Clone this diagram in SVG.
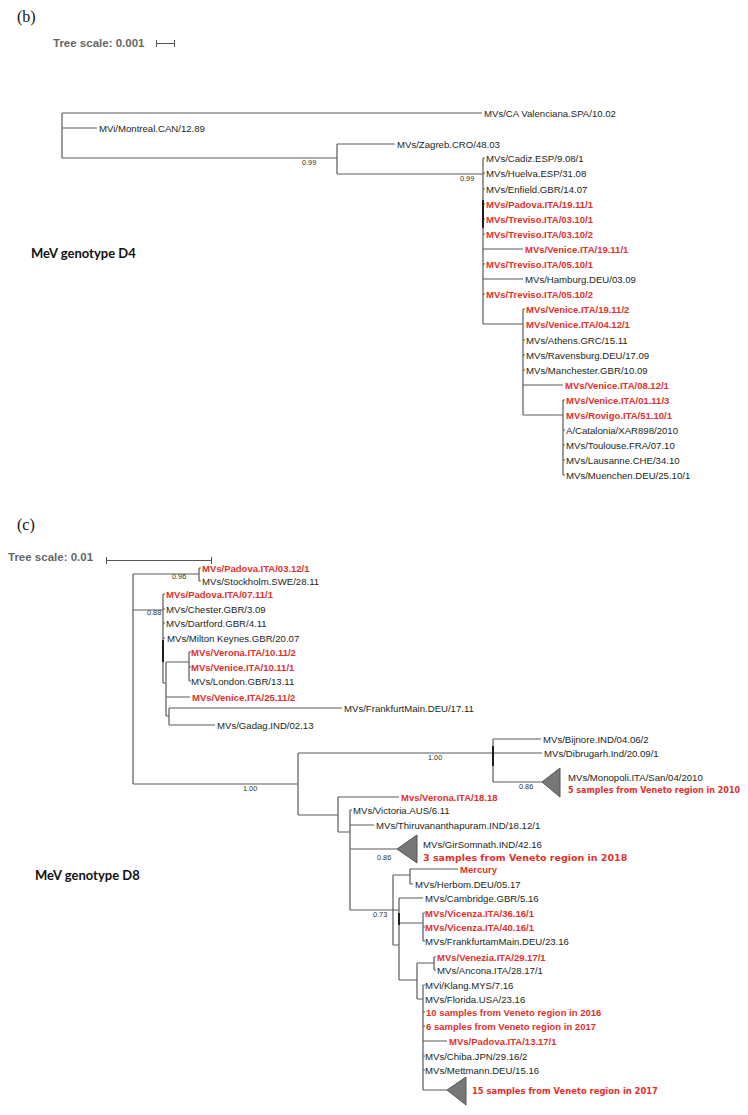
<svg xmlns="http://www.w3.org/2000/svg" width="748" height="1115" viewBox="0 0 748 1115">
<style>
.br{stroke:#5a5a5a;stroke-width:1.2;fill:none}
.dk{stroke:#111;stroke-width:1.8;fill:none}
.lb{font-family:"Liberation Sans",Arial,sans-serif;font-size:9.6px;fill:#1b261b}
.rd{font-family:"Liberation Sans",Arial,sans-serif;font-size:9.5px;font-weight:bold;fill:#e3302b}
.bs{font-family:"Liberation Sans",Arial,sans-serif;font-size:7.3px;fill:#2a332a}
.cl{font-family:"DejaVu Sans",Verdana,sans-serif;font-weight:bold;fill:#e3302b}
.sc{font-family:"Liberation Sans",Arial,sans-serif;font-size:11.5px;font-weight:bold;fill:#666}
.pn{font-family:"Liberation Serif","Times New Roman",serif;font-size:16px;fill:#111}
.gt{font-family:Lato,"Liberation Sans",sans-serif;font-size:13px;font-weight:bold;fill:#111}
.tri{fill:#777;stroke:#555;stroke-width:1}
.bar{stroke:#555;stroke-width:1;fill:none}
</style>
<rect width="748" height="1115" fill="#fff"/>

<!-- ============ (b) ============ -->
<text class="pn" x="17" y="22">(b)</text>
<text class="sc" x="53" y="47">Tree scale: 0.001</text>
<path class="bar" d="M156,43.5H175M156.5,40V47M174.5,40V47"/>
<text class="gt" x="31" y="258">MeV genotype D4</text>

<g id="connectors-b">
<path class="br" d="M62,113V158M62,113H482M62,128H97M62,158H337"/>
<path class="br" d="M337,144V174M337,144H395M337,174H483"/>
<path class="br" d="M483,158V324M483,158H485M483,173H485M483,189H485M483,204H485M483,219H485M483,234H485M483,249H523M483,264H485M483,279H523M483,294H485M483,324H523"/>
<path class="dk" d="M483,200V228"/>
<path class="br" d="M523,309V415M523,309H525M523,340H525M523,355H525M523,370H525M523,385H563M523,415H563"/>
<path class="br" d="M563,400V475M563,400H565M563,430H565M563,445H565M563,460H565M563,475H565"/>
</g>
<text class="bs" x="302" y="164.5">0.99</text>
<text class="bs" x="460" y="180.5">0.99</text>

<g id="b-valenciana"><text class="lb" x="484" y="116.5">MVs/CA Valenciana.SPA/10.02</text></g>
<g id="b-montreal"><text class="lb" x="99" y="131.5">MVi/Montreal.CAN/12.89</text></g>
<g id="b-zagreb"><text class="lb" x="397" y="147.5">MVs/Zagreb.CRO/48.03</text></g>
<g id="b-cadiz"><text class="lb" x="486" y="161.5">MVs/Cadiz.ESP/9.08/1</text></g>
<g id="b-huelva"><text class="lb" x="486" y="176.5">MVs/Huelva.ESP/31.08</text></g>
<g id="b-enfield"><text class="lb" x="486" y="192.5">MVs/Enfield.GBR/14.07</text></g>
<g id="b-padova"><text class="rd" x="486" y="207.5">MVs/Padova.ITA/19.11/1</text></g>
<g id="b-treviso1"><text class="rd" x="486" y="222.5">MVs/Treviso.ITA/03.10/1</text></g>
<g id="b-treviso2"><text class="rd" x="486" y="237.5">MVs/Treviso.ITA/03.10/2</text></g>
<g id="b-venice1"><text class="rd" x="525" y="252.5">MVs/Venice.ITA/19.11/1</text></g>
<g id="b-treviso3"><text class="rd" x="486" y="267.5">MVs/Treviso.ITA/05.10/1</text></g>
<g id="b-hamburg"><text class="lb" x="525" y="282.5">MVs/Hamburg.DEU/03.09</text></g>
<g id="b-treviso4"><text class="rd" x="486" y="297.5">MVs/Treviso.ITA/05.10/2</text></g>
<g id="b-venice2"><text class="rd" x="526" y="312.5">MVs/Venice.ITA/19.11/2</text></g>
<g id="b-venice3"><text class="rd" x="526" y="327.5">MVs/Venice.ITA/04.12/1</text></g>
<g id="b-athens"><text class="lb" x="526" y="343.5">MVs/Athens.GRC/15.11</text></g>
<g id="b-ravensburg"><text class="lb" x="526" y="358.5">MVs/Ravensburg.DEU/17.09</text></g>
<g id="b-manchester"><text class="lb" x="526" y="373.5">MVs/Manchester.GBR/10.09</text></g>
<g id="b-venice4"><text class="rd" x="565" y="388.5">MVs/Venice.ITA/08.12/1</text></g>
<g id="b-venice5"><text class="rd" x="566" y="403.5">MVs/Venice.ITA/01.11/3</text></g>
<g id="b-rovigo"><text class="rd" x="566" y="418.5">MVs/Rovigo.ITA/51.10/1</text></g>
<g id="b-catalonia"><text class="lb" x="566" y="433.5">A/Catalonia/XAR898/2010</text></g>
<g id="b-toulouse"><text class="lb" x="566" y="448.5">MVs/Toulouse.FRA/07.10</text></g>
<g id="b-lausanne"><text class="lb" x="566" y="463.5">MVs/Lausanne.CHE/34.10</text></g>
<g id="b-muenchen"><text class="lb" x="566" y="478.5">MVs/Muenchen.DEU/25.10/1</text></g>

<!-- ============ (c) ============ -->
<text class="pn" x="17" y="530">(c)</text>
<text class="sc" x="8" y="561">Tree scale: 0.01</text>
<path class="bar" d="M106,560.5H212M106.5,557V564M211.5,557V564"/>
<text class="gt" x="35" y="880">MeV genotype D8</text>

<g id="connectors-c">
<path class="br" d="M133,574V784M133,574H199M199,568V581M199,568H201M199,581H201"/>
<path class="br" d="M133,610H163M163,594V683M163,594H165M163,609H165M163,623H165M163,638H165M163,683H166"/>
<path class="dk" d="M163,640V662"/>
<path class="br" d="M166,662V716M166,662H189M189,652V681M189,652H191M189,667H191M189,681H191M166,697H190M166,716H169"/>
<path class="br" d="M169,708V725M169,708H342M169,725H215"/>
<path class="br" d="M133,784H298M298,753V815M298,753H542"/>
<path class="br" d="M493,739V782M493,739H541M493,782H542"/>
<path class="dk" d="M493,746V766"/>
<path class="br" d="M298,815H338M338,797V832M338,797H399M338,832H350"/>
<path class="br" d="M350,810V910M350,810H352M350,825H374M350,849H397M350,910H399"/>
<path class="br" d="M393,875V945M393,875H410M410,869V884M410,869H458M410,884H413M393,945H399"/>
<path class="br" d="M399,898V980M399,898H423M399,923H423M423,913V941M423,913H425M423,927H425M423,941H425"/>
<path class="dk" d="M399,913V925"/>
<path class="br" d="M399,980H417M417,963V999M417,963H434M434,957V970M434,957H436M434,970H436M417,999H423"/>
<path class="br" d="M423,985V1090M423,985H425M423,1012H425M423,1026H425M423,1041H447M423,1056H425M423,1070H425M423,1090H447"/>
</g>
<text class="bs" x="172" y="578.5">0.96</text>
<text class="bs" x="147" y="614.5">0.88</text>
<text class="bs" x="243" y="790.5">1.00</text>
<text class="bs" x="428" y="759.5">1.00</text>
<text class="bs" x="519" y="788.5">0.86</text>
<text class="bs" x="377" y="859.5">0.86</text>
<text class="bs" x="373" y="916.5">0.73</text>

<g id="c-padova1"><text class="rd" x="202" y="571.5">MVs/Padova.ITA/03.12/1</text></g>
<g id="c-stockholm"><text class="lb" x="202" y="584.5">MVs/Stockholm.SWE/28.11</text></g>
<g id="c-padova2"><text class="rd" x="166" y="597.5">MVs/Padova.ITA/07.11/1</text></g>
<g id="c-chester"><text class="lb" x="166" y="612.5">MVs/Chester.GBR/3.09</text></g>
<g id="c-dartford"><text class="lb" x="166" y="626.5">MVs/Dartford.GBR/4.11</text></g>
<g id="c-milton"><text class="lb" x="167" y="641.5">MVs/Milton Keynes.GBR/20.07</text></g>
<g id="c-verona1"><text class="rd" x="191" y="655.5">MVs/Verona.ITA/10.11/2</text></g>
<g id="c-venice1"><text class="rd" x="191" y="670.5">MVs/Venice.ITA/10.11/1</text></g>
<g id="c-london"><text class="lb" x="191" y="684.5">MVs/London.GBR/13.11</text></g>
<g id="c-venice2"><text class="rd" x="192" y="700.5">MVs/Venice.ITA/25.11/2</text></g>
<g id="c-frankfurt"><text class="lb" x="344" y="711.5">MVs/FrankfurtMain.DEU/17.11</text></g>
<g id="c-gadag"><text class="lb" x="217" y="728.5">MVs/Gadag.IND/02.13</text></g>
<g id="c-bijnore"><text class="lb" x="543" y="742.5">MVs/Bijnore.IND/04.06/2</text></g>
<g id="c-dibrugarh"><text class="lb" x="544" y="756.5">MVs/Dibrugarh.Ind/20.09/1</text></g>
<g id="c-monopoli">
<path class="tri" d="M542,782L560,768L560,797Z"/>
<text class="lb" x="568" y="780.5">MVs/Monopoli.ITA/San/04/2010</text>
<text class="cl" x="568" y="793" font-size="8">5 samples from Veneto region in 2010</text>
</g>
<g id="c-verona2"><text class="rd" x="401" y="800.5">Mvs/Verona.ITA/18.18</text></g>
<g id="c-victoria"><text class="lb" x="353" y="813.5">MVs/Victoria.AUS/6.11</text></g>
<g id="c-thiru"><text class="lb" x="376" y="828.5">MVs/Thiruvananthapuram.IND/18.12/1</text></g>
<g id="c-girsomnath">
<path class="tri" d="M397,849L417,835L417,863Z"/>
<text class="lb" x="423" y="848" font-size="10.5">MVs/GirSomnath.IND/42.16</text>
<text class="cl" x="423" y="860.5" font-size="9.5">3 samples from Veneto region in 2018</text>
</g>
<g id="c-mercury"><text class="rd" x="460" y="872.5">Mercury</text></g>
<g id="c-herbom"><text class="lb" x="415" y="887.5">MVs/Herbom.DEU/05.17</text></g>
<g id="c-cambridge"><text class="lb" x="425" y="901.5">MVs/Cambridge.GBR/5.16</text></g>
<g id="c-vicenza1"><text class="rd" x="425" y="916.5">MVs/Vicenza.ITA/36.16/1</text></g>
<g id="c-vicenza2"><text class="rd" x="425" y="930.5">MVs/Vicenza.ITA/40.16/1</text></g>
<g id="c-frankfurtam"><text class="lb" x="425" y="944.5">MVs/FrankfurtamMain.DEU/23.16</text></g>
<g id="c-venezia"><text class="rd" x="437" y="960.5">MVs/Venezia.ITA/29.17/1</text></g>
<g id="c-ancona"><text class="lb" x="437" y="973.5">MVs/Ancona.ITA/28.17/1</text></g>
<g id="c-klang"><text class="lb" x="425" y="988.5">MVi/Klang.MYS/7.16</text></g>
<g id="c-florida"><text class="lb" x="425" y="1002.5">MVs/Florida.USA/23.16</text></g>
<g id="c-s2016"><text class="rd" x="426" y="1015.5">10 samples from Veneto region in 2016</text></g>
<g id="c-s2017a"><text class="rd" x="426" y="1029.5">6 samples from Veneto region in 2017</text></g>
<g id="c-padova3"><text class="rd" x="449" y="1044.5">MVs/Padova.ITA/13.17/1</text></g>
<g id="c-chiba"><text class="lb" x="425" y="1059.5">MVs/Chiba.JPN/29.16/2</text></g>
<g id="c-mettmann"><text class="lb" x="425" y="1073.5">MVs/Mettmann.DEU/15.16</text></g>
<g id="c-s2017b">
<path class="tri" d="M447,1090L466,1077L466,1105Z"/>
<text class="cl" x="472" y="1094" font-size="8.4">15 samples from Veneto region in 2017</text>
</g>
</svg>
